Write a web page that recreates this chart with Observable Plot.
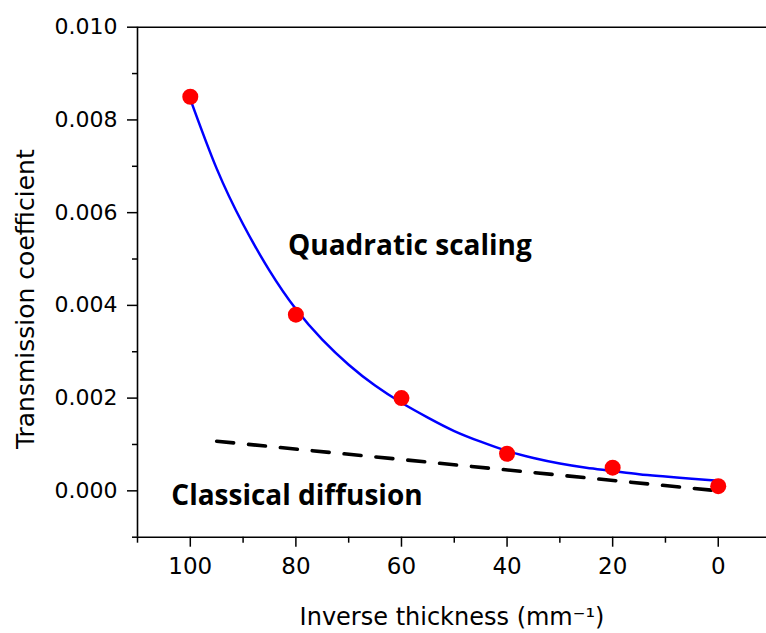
<!DOCTYPE html>
<html>
<head>
<meta charset="utf-8">
<script src="https://cdn.jsdelivr.net/npm/d3@7"></script>
<script src="https://cdn.jsdelivr.net/npm/@observablehq/plot@0.6"></script>
<style>
  html, body { margin: 0; padding: 0; background: #fff; }
</style>
</head>
<body>
<div id="chart"></div>
<script>
// Measured points
const thickness = [100, 80, 60, 40, 20, 0];
const transmission = [0.0085, 0.0038, 0.0020, 0.0008, 0.0005, 0.0001];

// Fitted curve (quadratic scaling)
const fitX = [100, 95, 90, 85, 80, 75, 70, 65, 60, 55, 50, 45, 40, 35, 30, 25, 20, 15, 10, 5, 0];
const fitY = [0.00845, 0.00695, 0.00575, 0.00475, 0.00392, 0.00326, 0.00272, 0.00227, 0.00190, 0.00158,
              0.00129, 0.00106, 0.00086, 0.00071, 0.00059, 0.00050, 0.00043, 0.00036, 0.00031, 0.00026, 0.000215];

// Classical diffusion line
const classicalX = [95, 0];
const classicalY = [0.00107, 0.0];

// Ticks
const xTicks = [100, 80, 60, 40, 20, 0];
const xMinorTicks = [110, 90, 70, 50, 30, 10];
const yTicks = [0, 0.002, 0.004, 0.006, 0.008, 0.010];
const yMinorTicks = [-0.001, 0.001, 0.003, 0.005, 0.007, 0.009];

// Labels
const xTitle = "Inverse thickness (mm\u207B\u00B9)";
const yTitle = "Transmission coefficient";
const noteQuadratic = "Quadratic scaling";
const noteClassical = "Classical diffusion";

const points = thickness.map((x, i) => ({x, y: transmission[i]}));
const fit = fitX.map((x, i) => ({x, y: fitY[i]}));
const classical = classicalX.map((x, i) => ({x, y: classicalY[i]}));

const axisFont = "DejaVu Sans";

const chart = Plot.plot({
  width: 766,
  height: 633,
  marginLeft: 137,
  marginRight: 0,
  marginTop: 26.7,
  marginBottom: 96.3,
  style: {fontFamily: axisFont, fontSize: "22px", color: "black", background: "white"},
  x: {domain: [110, -9.14]},
  y: {domain: [-0.001, 0.010]},
  marks: [
    // frame lines
    Plot.ruleY([0.010], {stroke: "black", strokeWidth: 1.6}),
    Plot.ruleX([110], {stroke: "black", strokeWidth: 1.6}),
    Plot.ruleY([-0.001], {stroke: "black", strokeWidth: 1.6}),
    // axes
    Plot.axisY({ticks: yTicks, tickSize: 10, tickPadding: 10, tickFormat: d3.format(".3f"),
                label: null, fontSize: 22, strokeWidth: 1.5, fontFamily: axisFont}),
    Plot.axisY({ticks: yMinorTicks, tickSize: 5, tickFormat: () => "", label: null, strokeWidth: 1.5}),
    Plot.axisX({ticks: xTicks, tickSize: 10, tickPadding: 10, tickFormat: d3.format("d"),
                label: null, fontSize: 23, strokeWidth: 1.5, fontFamily: axisFont}),
    Plot.axisX({ticks: xMinorTicks, tickSize: 6, tickFormat: () => "", label: null, strokeWidth: 1.5}),
    // titles
    Plot.text([yTitle], {frameAnchor: "left", rotate: -90, dx: -112, dy: 17, textAnchor: "middle",
                         lineAnchor: "middle", fontSize: 25, fontFamily: axisFont, fill: "black"}),
    Plot.text([xTitle], {frameAnchor: "bottom", dy: 88, lineAnchor: "bottom", textAnchor: "middle",
                         fontSize: 24, fontFamily: axisFont, fill: "black"}),
    // data
    Plot.line(classical, {x: "x", y: "y", stroke: "black", strokeWidth: 3.6, strokeDasharray: "17,15"}),
    Plot.line(fit, {x: "x", y: "y", stroke: "#0000ff", strokeWidth: 2.5, curve: "natural"}),
    Plot.dot(points, {x: "x", y: "y", r: 8, fill: "#ff0000", stroke: "none"}),
    // annotations
    Plot.text([noteQuadratic], {x: () => 81.5, y: () => 0.00508, textAnchor: "start", lineAnchor: "bottom",
                                fontFamily: "Open Sans", fontWeight: "bold", fontSize: 28, fill: "black"}),
    Plot.text([noteClassical], {x: () => 103.6, y: () => -0.00031, textAnchor: "start", lineAnchor: "bottom",
                                fontFamily: "Open Sans", fontWeight: "bold", fontSize: 28, fill: "black"})
  ]
});

document.getElementById("chart").appendChild(chart);
</script>
</body>
</html>
